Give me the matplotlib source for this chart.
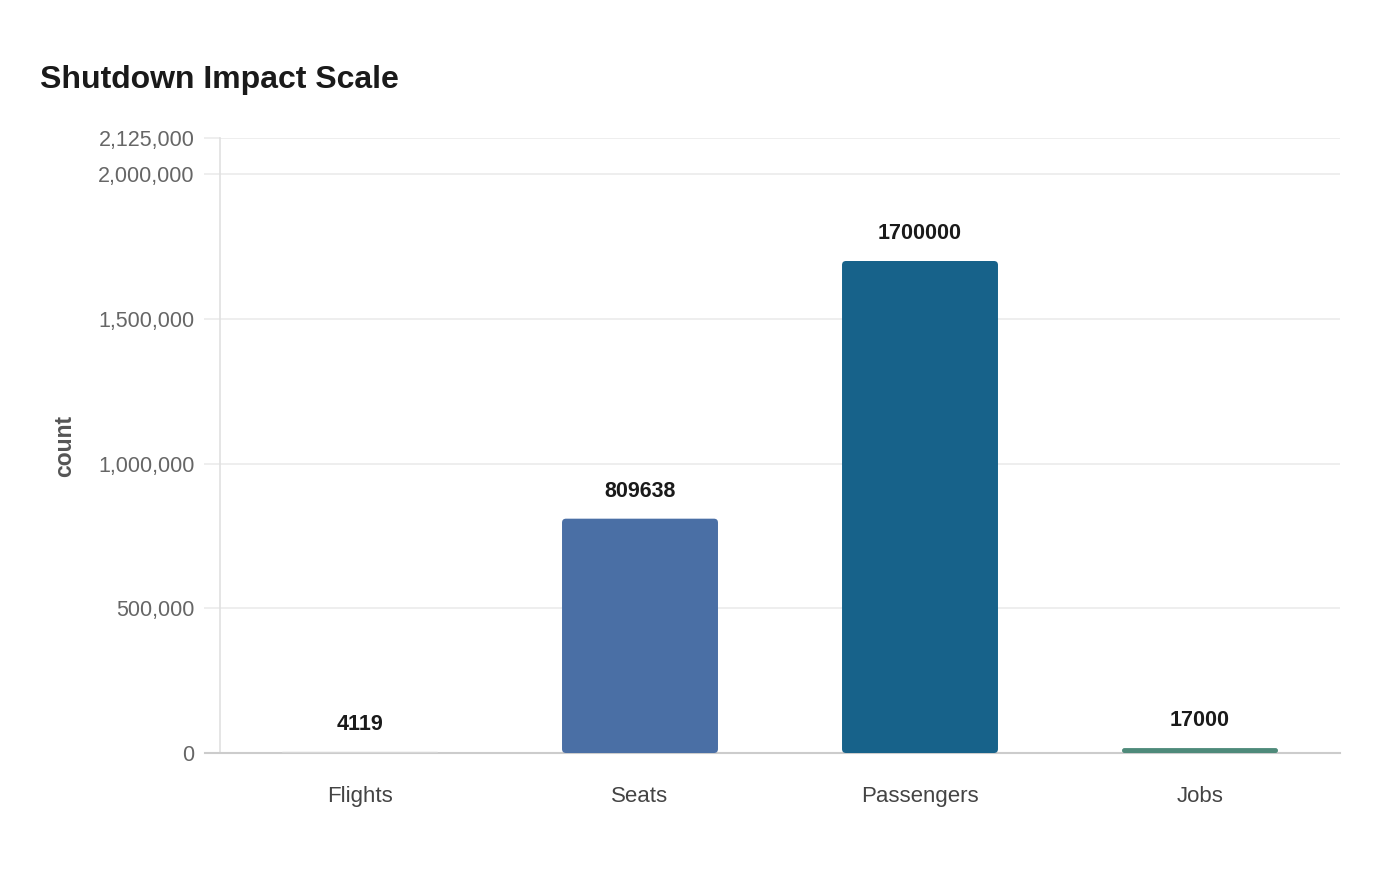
import matplotlib.pyplot as plt
from matplotlib.patches import FancyBboxPatch
from matplotlib.ticker import FuncFormatter

plt.rcParams['font.family'] = ['Liberation Sans', 'DejaVu Sans']

categories = ['Flights', 'Seats', 'Passengers', 'Jobs']
values = [4119, 809638, 1700000, 17000]
colors = ['#d6d6d6', '#4a6fa5', '#17628a', '#4e8a7a']
yticks = [0, 500000, 1000000, 1500000, 2000000, 2125000]
ymax = 2125000

fig = plt.figure(figsize=(14, 8.8), dpi=100)
ax = fig.add_axes([220 / 1400, 1 - 753 / 880, 1120 / 1400, 615 / 880])

ax.set_xlim(-0.5, len(categories) - 0.5)
ax.set_ylim(0, ymax)

width = 0.557
# rounding radius in px converted to data units
px_x = 1 / 280
px_y = ymax / 615
for i, (v, c) in enumerate(zip(values, colors)):
    h_px = v / px_y
    r = min(4, h_px / 2) * px_x
    patch = FancyBboxPatch((i - width / 2, 0), width, v,
                           boxstyle=f"round,pad=0,rounding_size={r}",
                           mutation_aspect=px_y / px_x,
                           facecolor=c, edgecolor='none', zorder=3)
    ax.add_patch(patch)
    ax.annotate(str(v), (i, v), xytext=(0, 19.5), textcoords='offset points',
                ha='center', va='center', fontsize=15.5, fontweight='bold',
                color='#1a1a1a', zorder=4)

ax.set_xticks(range(len(categories)))
ax.set_xticklabels(categories)
ax.set_yticks(yticks)
ax.yaxis.set_major_formatter(FuncFormatter(lambda v, p: f'{int(v):,}'))

ax.grid(axis='y', color='#ebebeb', linewidth=1.2, zorder=0)
ax.tick_params(axis='y', length=11.5, width=1.2, color='#ebebeb', pad=7,
               labelsize=15.5, labelcolor='#666666')
ax.tick_params(axis='x', length=0, pad=24, labelsize=16, labelcolor='#444444')

for s in ['top', 'right']:
    ax.spines[s].set_visible(False)
ax.spines['left'].set_color('#e0e0e0')
ax.spines['left'].set_linewidth(1.2)
ax.spines['bottom'].set_color('#cccccc')
ax.spines['bottom'].set_linewidth(1.5)
ax.spines['bottom'].set_bounds(-0.5 - 15 / 280, len(categories) - 0.5)
ax.spines['bottom'].set_clip_on(False)

ax.set_ylabel('count', fontsize=16.5, fontweight='bold', color='#555555')
ax.yaxis.set_label_coords((76 - 220) / 1120, 0.5)

fig.text(40 / 1400, 1 - 80 / 880, 'Shutdown Impact Scale', fontsize=23,
         fontweight='bold', color='#1a1a1a', ha='left', va='center')

fig.savefig('out.png', dpi=100, facecolor='white')
